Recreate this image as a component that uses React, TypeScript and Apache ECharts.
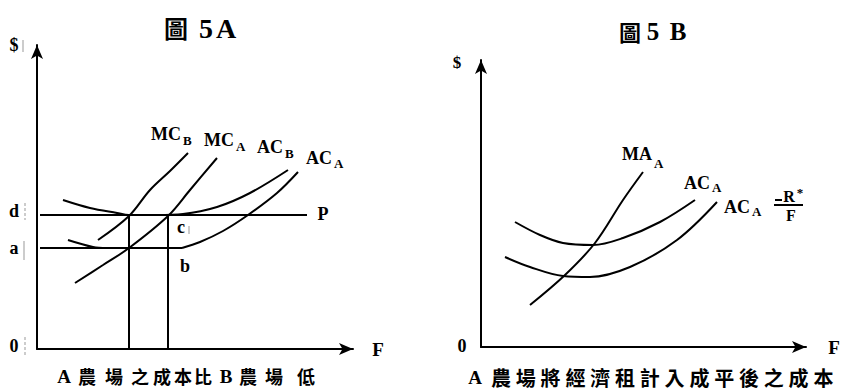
import React, { useEffect, useRef } from "react";
import * as echarts from "echarts";

// ---- Figure 5A (left) : data units = pixels from axis origin ----
const priceP: number[][] = [[3, 134], [270, 134]];
const levelA: number[][] = [[3, 101], [145, 101]];
const vert1: number[][] = [[92, 0], [92, 134]];
const vert2: number[][] = [[131, 0], [131, 134]];
const mcB: number[][] = [[61, 109], [92, 133], [113, 159], [133, 178], [151, 196]];
const mcA: number[][] = [[38, 66], [66, 84], [92, 101], [131, 133], [153, 159], [180, 191]];
const acB: number[][] = [[26, 149], [53, 141], [80, 136], [92, 134], [120, 134], [146, 135], [180, 142], [213, 156], [251, 179]];
const acALeft: number[][] = [[31, 109], [56, 102], [70, 101]];
const acARight: number[][] = [[145, 101], [163, 107], [186, 118], [211, 134], [240, 156], [261, 177]];

// ---- Figure 5B (right) ----
const maA: number[][] = [[49, 42], [84, 72], [114, 104], [142, 147], [162, 175]];
const acAUpper: number[][] = [[34, 125], [59, 112], [82, 104], [112, 102], [142, 109], [179, 125], [214, 147]];
const acALower: number[][] = [[24, 90], [49, 80], [82, 71], [109, 70], [149, 80], [196, 107], [236, 145]];

const leftCaption = ["A", "農", "場", "之", "成", "本", "比", "B", "農", "場", "低"];
const leftCaptionX = [64, 87, 114, 140, 162, 183, 203, 226, 248, 274, 306];
const rightCaption = ["農", "場", "將", "經", "濟", "租", "計", "入", "成", "平", "後", "之", "成", "本"];

const SERIF = '"Liberation Serif", "DejaVu Serif", serif';
const CJK = '"Noto Sans CJK TC", "Noto Sans CJK SC", sans-serif';

function txt(text: string, x: number, y: number, size: number, family = SERIF, align = "center") {
  return {
    type: "text",
    silent: true,
    style: {
      text,
      x,
      y,
      font: `bold ${size}px ${family}`,
      fill: "#000",
      align,
      verticalAlign: "middle",
    },
  };
}

function seg(x1: number, y1: number, x2: number, y2: number, color = "#000", width = 2, dash?: number[]) {
  return {
    type: "line",
    silent: true,
    shape: { x1, y1, x2, y2 },
    style: { stroke: color, lineWidth: width, lineDash: dash },
  };
}

function line(data: number[][], gi: number, smooth: number | boolean = 0.35) {
  return {
    type: "line",
    xAxisIndex: gi,
    yAxisIndex: gi,
    data,
    symbol: "none",
    showSymbol: false,
    smooth,
    silent: true,
    lineStyle: { color: "#000", width: 2 },
  };
}

const axisCommon = {
  type: "value",
  axisTick: { show: false },
  axisLabel: { show: false },
  splitLine: { show: false },
  axisLine: {
    show: true,
    onZero: false,
    symbol: ["none", "arrow"],
    symbolSize: [9, 14],
    lineStyle: { color: "#000", width: 2 },
  },
};

export default function App() {
  const ref = useRef<HTMLDivElement>(null);
  useEffect(() => {
    if (!ref.current) return;
    const chart = echarts.init(ref.current, null, { renderer: "svg" });
    const graphics: any[] = [
      // titles
      txt("圖", 176, 27, 24, CJK),
      txt("5", 206, 28, 28),
      txt("A", 226, 28, 28),
      txt("圖", 630, 31, 22, CJK),
      txt("5", 653, 31, 25),
      txt("B", 678, 31, 25),
      // left axis labels
      txt("$", 14, 45, 18),
      txt("d", 14, 211, 18),
      txt("a", 14, 248, 18),
      txt("0", 14, 346, 18),
      txt("P", 323, 214, 18),
      txt("F", 378, 349, 19),
      txt("c", 181, 227, 18),
      txt("b", 185, 266, 18),
      // left curve labels
      txt("MC", 151, 134, 18, SERIF, "left"),
      txt("B", 183, 140, 13, SERIF, "left"),
      txt("MC", 204, 140, 18, SERIF, "left"),
      txt("A", 236, 146, 13, SERIF, "left"),
      txt("AC", 257, 147, 18, SERIF, "left"),
      txt("B", 285, 153, 13, SERIF, "left"),
      txt("AC", 306, 158, 18, SERIF, "left"),
      txt("A", 334, 163, 13, SERIF, "left"),
      // right axis labels
      txt("$", 457, 62, 17),
      txt("0", 462, 346, 18),
      txt("F", 834, 347, 19),
      // right curve labels
      txt("MA", 622, 154, 18, SERIF, "left"),
      txt("A", 654, 163, 13, SERIF, "left"),
      txt("AC", 684, 183, 18, SERIF, "left"),
      txt("A", 712, 187, 13, SERIF, "left"),
      txt("AC", 724, 207, 18, SERIF, "left"),
      txt("A", 752, 211, 13, SERIF, "left"),
      seg(775, 200, 782, 200),
      txt("R", 789, 196, 16),
      txt("*", 800, 192, 13),
      seg(774, 205, 803, 205),
      txt("F", 791, 215, 16),
      // faint scan marks
      seg(23, 40, 23, 52, "#999", 1),
      seg(25, 203, 25, 220, "#999", 1, [3, 2]),
      seg(24, 241, 24, 260, "#999", 1),
      seg(25, 337, 25, 357, "#999", 1, [3, 2]),
      seg(189, 226, 189, 234, "#999", 1),
      // captions
      ...leftCaption.map((c, i) => txt(c, leftCaptionX[i], 376, c === "A" || c === "B" ? 19 : 18, c === "A" || c === "B" ? SERIF : CJK)),
      txt("A", 475, 377, 19),
      ...rightCaption.map((c, i) => txt(c, 501 + i * 24.8, 377, 20, CJK)),
    ];

    chart.setOption({
      animation: false,
      backgroundColor: "#fff",
      grid: [
        { left: 37, top: 45, width: 316, height: 304 },
        { left: 481, top: 60, width: 325, height: 287 },
      ],
      xAxis: [
        { ...axisCommon, gridIndex: 0, min: 0, max: 316 },
        { ...axisCommon, gridIndex: 1, min: 0, max: 325 },
      ],
      yAxis: [
        { ...axisCommon, gridIndex: 0, min: 0, max: 304 },
        { ...axisCommon, gridIndex: 1, min: 0, max: 287 },
      ],
      series: [
        line(priceP, 0, false),
        line(levelA, 0, false),
        line(vert1, 0, false),
        line(vert2, 0, false),
        line(mcB, 0),
        line(mcA, 0),
        line(acB, 0),
        line(acALeft, 0),
        line(acARight, 0),
        line(maA, 1),
        line(acAUpper, 1),
        line(acALower, 1),
      ],
      graphic: graphics,
    });
    return () => chart.dispose();
  }, []);
  return <div ref={ref} style={{ width: 841, height: 390, position: "absolute", left: 0, top: 0 }} />;
}
